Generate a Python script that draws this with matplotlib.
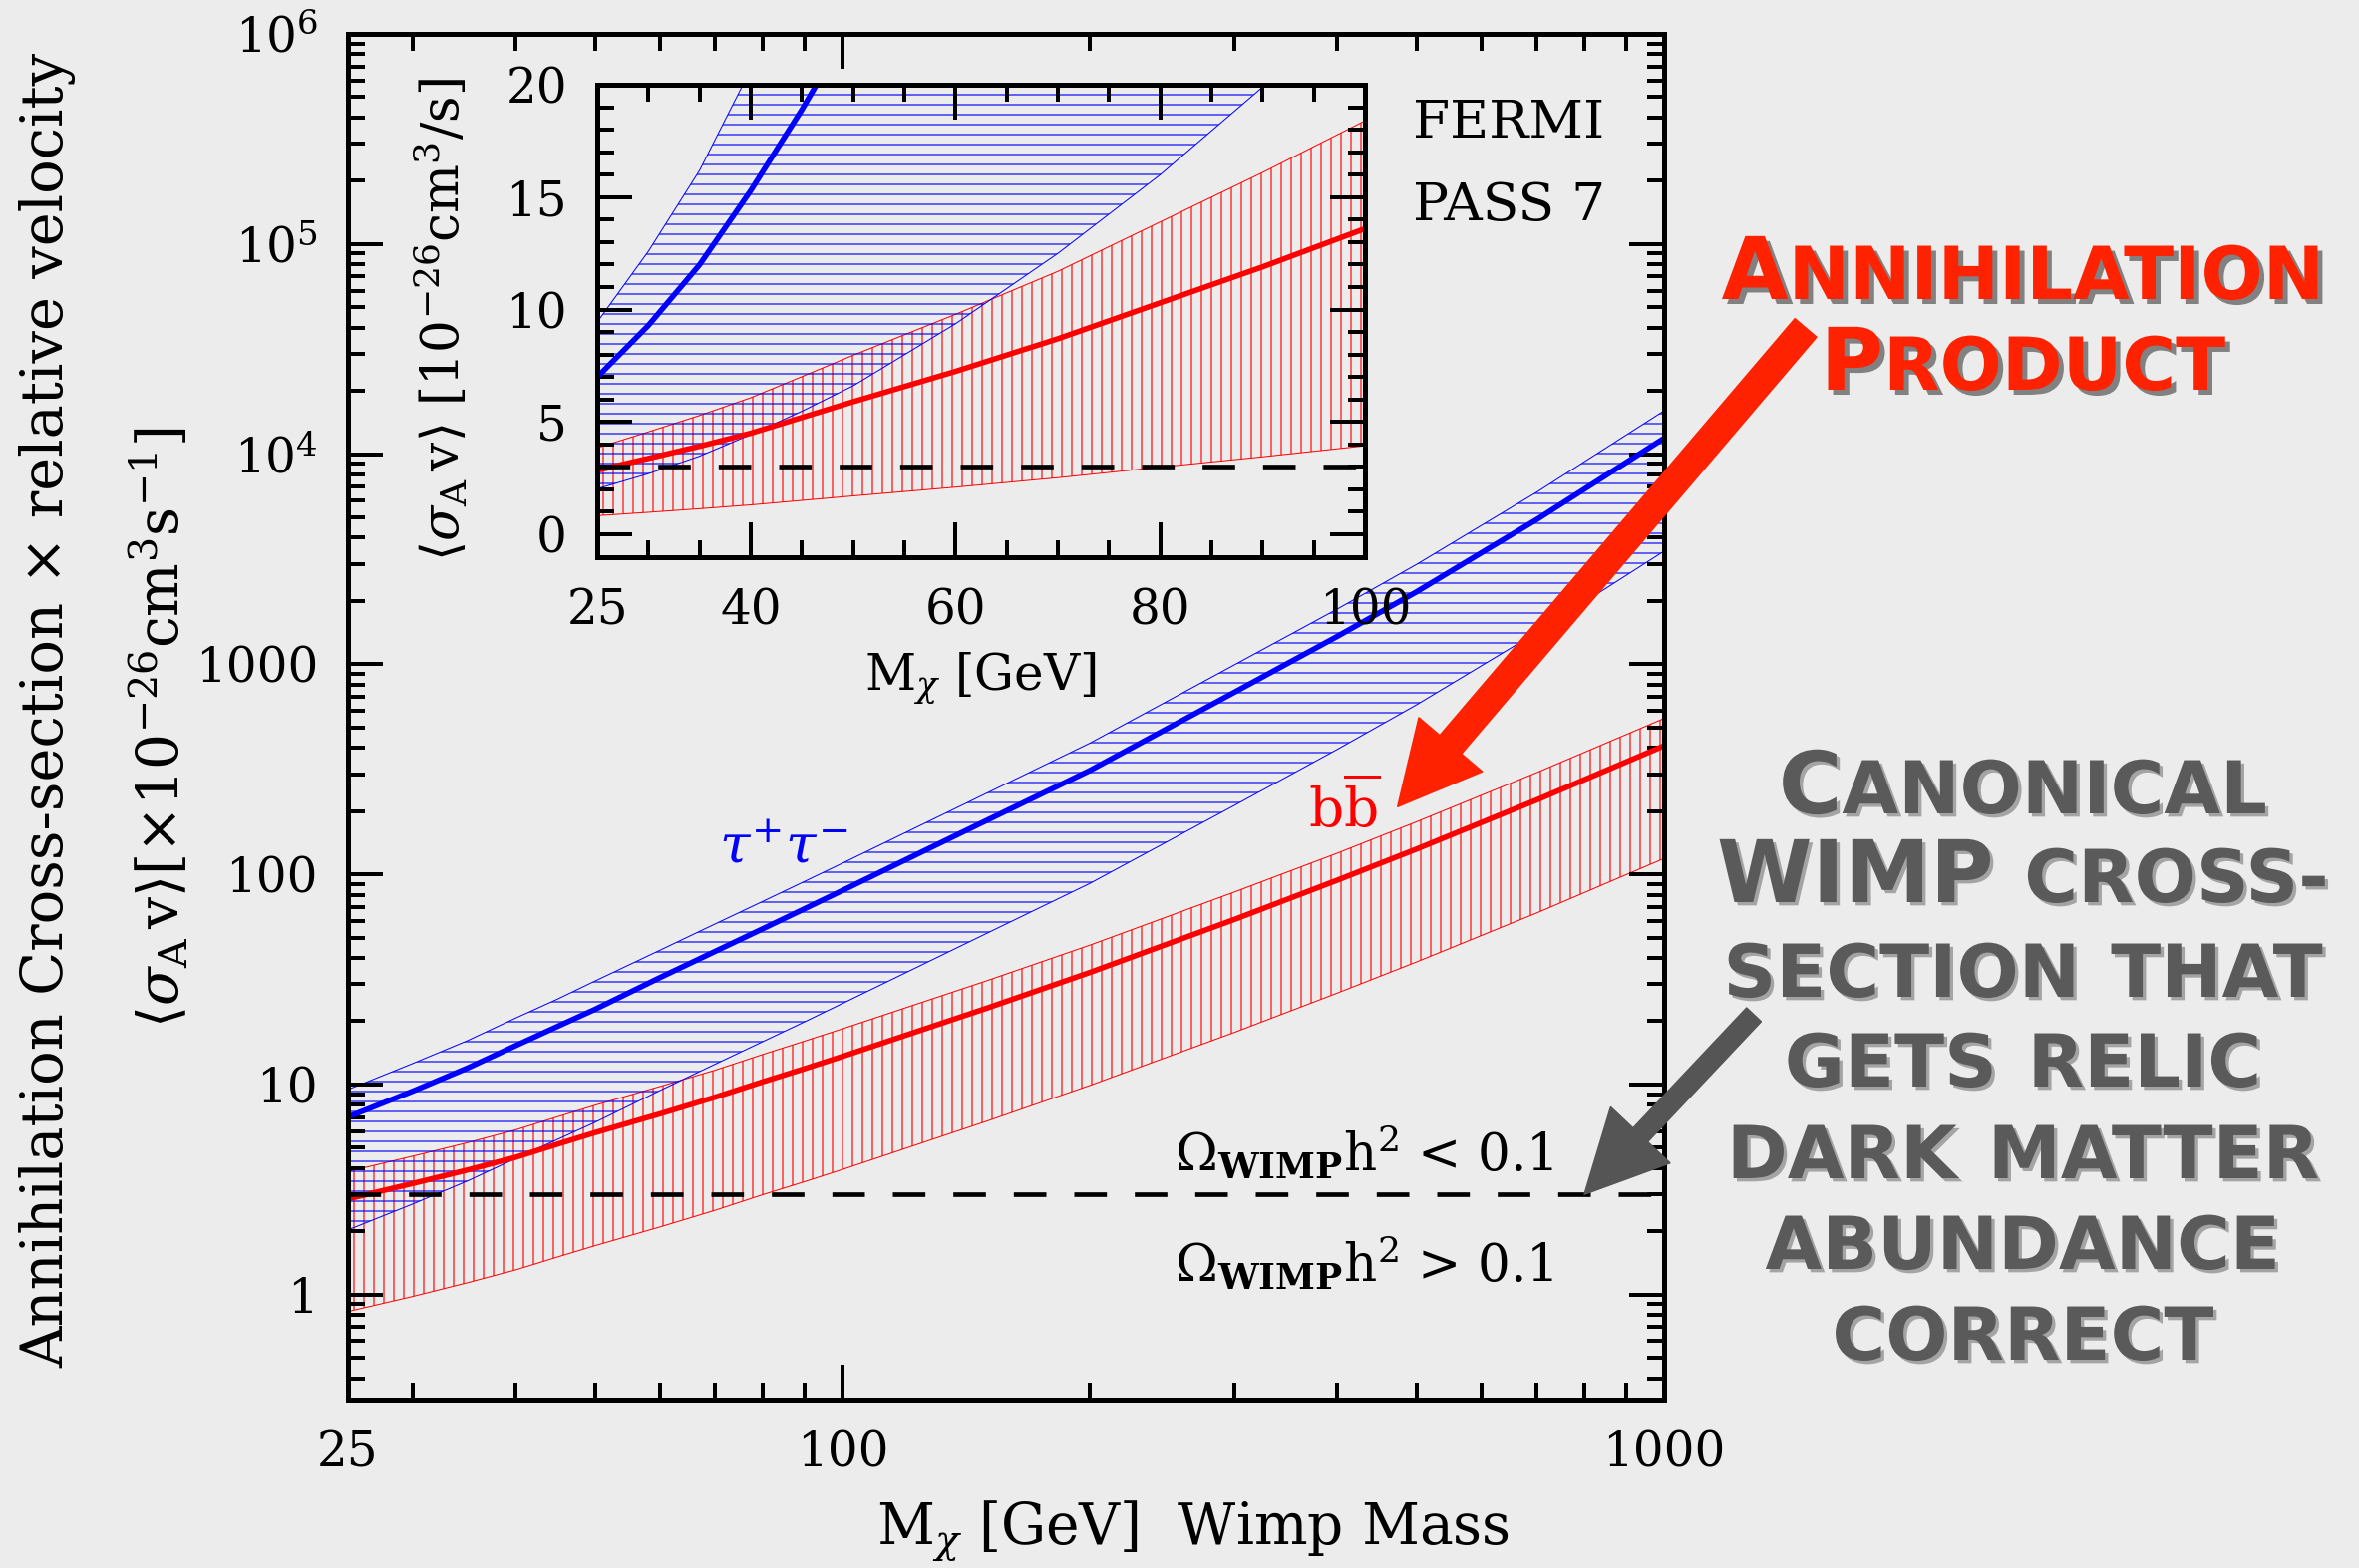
import matplotlib
matplotlib.use("Agg")
import matplotlib.pyplot as plt
import matplotlib.ticker as mticker
from matplotlib import patheffects as pe

# WIMP mass grid [GeV] and Fermi pass-7 limits [1e-26 cm^3/s]
mass = [25, 30, 35, 40, 45, 50, 60, 70, 80, 90, 100, 150, 200, 300, 400, 500, 700, 1000]
tau_mid = [7.0, 9.3, 12.0, 15.3, 18.9, 22.8, 32.3, 43.0, 55.1, 68.7, 83.8, 181, 312, 736, 1355, 2213, 4883, 11900]
tau_hi = [9.45, 12.6, 16.2, 20.7, 25.5, 31.1, 43.6, 58.1, 74.4, 92.7, 113, 244, 421, 994, 1829, 2988, 6592, 16070]
tau_lo = [2.03, 2.70, 3.48, 4.44, 5.48, 6.61, 9.37, 12.5, 16.0, 19.9, 24.3, 52.5, 90.5, 213, 393, 642, 1416, 3451]
bb_mid = [2.85, 3.38, 3.92, 4.5, 5.2, 5.9, 7.25, 8.7, 10.3, 11.9, 13.6, 23.1, 34.1, 61.0, 93.7, 132, 226, 409]
bb_hi = [3.85, 4.56, 5.29, 6.08, 7.02, 7.97, 9.79, 11.7, 13.9, 16.1, 18.4, 31.2, 46.0, 82.4, 126, 178, 305, 552]
bb_lo = [0.83, 0.98, 1.14, 1.31, 1.51, 1.71, 2.10, 2.52, 2.99, 3.45, 3.94, 6.70, 9.89, 17.7, 27.2, 38.3, 65.5, 119]
relic = 3.0

main_xticks = [25, 100, 1000]
main_xlabels = ["25", "100", "1000"]
main_yticks = [1, 10, 100, 1000, 1e4, 1e5, 1e6]
main_ylabels = ["1", "10", "100", "1000", r"$10^4$", r"$10^5$", r"$10^6$"]
inset_xticks = [25, 40, 60, 80, 100]
inset_yticks = [0, 5, 10, 15, 20]

# small-caps captions: (big part, small part) per word
annih_lines = [[("A", "NNIHILATION")], [("P", "RODUCT")]]
canon_lines = [
    [("C", "ANONICAL")],
    [("WIMP", ""), ("", "CROSS-")],
    [("", "SECTION"), ("", "THAT")],
    [("", "GETS"), ("", "RELIC")],
    [("", "DARK"), ("", "MATTER")],
    [("", "ABUNDANCE")],
    [("", "CORRECT")],
]

BG = "#ececec"
RED = "#ff2200"
GREY = "#5a5a5a"
W, H, DPI = 2366, 1573, 120

plt.rcParams["font.family"] = ["DejaVu Serif"]
plt.rcParams["mathtext.fontset"] = "dejavuserif"
plt.rcParams["hatch.linewidth"] = 0.7

fig = plt.figure(figsize=(W / DPI, H / DPI), dpi=DPI, facecolor=BG)


def draw_bands(ax):
    ax.fill_between(mass, bb_lo, bb_hi, facecolor="none", edgecolor="red",
                    hatch="||", linewidth=0.6)
    ax.fill_between(mass, tau_lo, tau_hi, facecolor="none", edgecolor="blue",
                    hatch="--", linewidth=0.6)
    ax.plot(mass, bb_mid, color="red", lw=3.3, solid_joinstyle="round")
    ax.plot(mass, tau_mid, color="blue", lw=3.3, solid_joinstyle="round")
    ax.axhline(relic, color="black", lw=2.8, dashes=(7, 6))


def style_ticks(ax, size):
    ax.tick_params(which="both", direction="in", top=True, right=True,
                   width=2.4, labelsize=size, pad=18)
    ax.tick_params(which="major", length=21)
    ax.tick_params(which="minor", length=10)
    for s in ax.spines.values():
        s.set_linewidth(3)


# ---- main panel
ax = fig.add_axes([0.1475, 0.1074, 0.5579, 0.8710], facecolor=BG)
draw_bands(ax)
ax.set_xscale("log")
ax.set_yscale("log")
ax.set_xlim(25, 1000)
ax.set_ylim(10 ** -0.5, 1e6)
ax.xaxis.set_major_locator(mticker.FixedLocator(main_xticks))
ax.xaxis.set_major_formatter(mticker.FixedFormatter(main_xlabels))
ax.xaxis.set_minor_locator(mticker.LogLocator(base=10, subs=range(2, 10), numticks=20))
ax.xaxis.set_minor_formatter(mticker.NullFormatter())
ax.yaxis.set_major_locator(mticker.FixedLocator(main_yticks))
ax.yaxis.set_major_formatter(mticker.FixedFormatter(main_ylabels))
ax.yaxis.set_minor_locator(mticker.LogLocator(base=10, subs=range(2, 10), numticks=40))
ax.yaxis.set_minor_formatter(mticker.NullFormatter())
style_ticks(ax, 29)

ax.text(84.6, 135, r"$\tau^{+}\tau^{-}$", color="blue", fontsize=33, ha="center", va="center")
ax.text(408, 205, r"$\mathrm{b}\overline{\mathrm{b}}$", color="red", fontsize=33, ha="center", va="center")
ax.text(431, 3.85, r"$\Omega_{\mathbf{WIMP}}\mathrm{h}^2$ < 0.1", fontsize=31, ha="center", va="baseline")
ax.text(431, 1.15, r"$\Omega_{\mathbf{WIMP}}\mathrm{h}^2$ > 0.1", fontsize=31, ha="center", va="baseline")
ax.text(0.882, 0.935, "FERMI", transform=ax.transAxes, fontsize=32, ha="center", va="center")
ax.text(0.882, 0.874, "PASS 7", transform=ax.transAxes, fontsize=32, ha="center", va="center")

fig.text(1197 / W, 1 - 1535 / H, r"M$_\chi$ [GeV]  Wimp Mass", fontsize=34, ha="center", va="center")
fig.text(48 / W, 1 - 712 / H, "Annihilation Cross-section \u00d7 relative velocity",
         fontsize=34.5, rotation=90, ha="center", va="center")
fig.text(160 / W, 1 - 730 / H,
         r"$\langle\sigma_{\rm A}\,{\rm v}\rangle[\times10^{-26}{\rm cm^3s^{-1}}]$",
         fontsize=34, rotation=90, ha="center", va="center")

# ---- inset
ax2 = fig.add_axes([0.2532, 0.6446, 0.3254, 0.3013], facecolor=BG)
draw_bands(ax2)
ax2.set_xlim(25, 100)
ax2.set_ylim(-1.02, 20)
ax2.xaxis.set_major_locator(mticker.FixedLocator(inset_xticks))
ax2.xaxis.set_minor_locator(mticker.MultipleLocator(5))
ax2.yaxis.set_major_locator(mticker.FixedLocator(inset_yticks))
ax2.yaxis.set_minor_locator(mticker.MultipleLocator(1))
style_ticks(ax2, 29)
fig.text(983 / W, 1 - 680 / H, r"M$_\chi$ [GeV]", fontsize=30, ha="center", va="center")
fig.text(443 / W, 1 - 321 / H,
         r"$\langle\sigma_{\rm A}\,{\rm v}\rangle$ [10$^{-26}$cm$^3$/s]",
         fontsize=31, rotation=90, ha="center", va="center")

# ---- arrows
ax.annotate("", xy=(474, 210), xycoords="data", xytext=(1811, H - 329),
            textcoords="figure pixels", annotation_clip=False,
            arrowprops=dict(arrowstyle="simple,head_length=4.9,head_width=5.0,tail_width=1.7",
                            mutation_scale=10, color=RED,
                            shrinkA=0, shrinkB=0, clip_on=False), zorder=10)
ax.annotate("", xy=(800, relic), xycoords="data", xytext=(1759, H - 1018),
            textcoords="figure pixels", annotation_clip=False,
            arrowprops=dict(arrowstyle="simple,head_length=4.9,head_width=4.9,tail_width=1.2",
                            mutation_scale=10, color="#555555",
                            shrinkA=0, shrinkB=0, clip_on=False), zorder=10)


# ---- small caps captions on the right
def smallcaps_line(words, cx, base, big, small, color, effects):
    r = fig.canvas.get_renderer()
    gap = 0.42 * small * DPI / 72
    pieces = []
    for i, (cap, rest) in enumerate(words):
        for txt, size in ((cap, big), (rest, small)):
            if not txt:
                continue
            t = fig.text(0, 1 - base / H, txt, fontsize=size, color=color,
                         fontweight="bold", family="DejaVu Sans",
                         va="baseline", ha="left", path_effects=effects)
            pieces.append([t, t.get_window_extent(renderer=r).width, i])
    total = sum(p[1] for p in pieces) + gap * (len(words) - 1)
    x = cx - total / 2
    last = 0
    for t, w, i in pieces:
        if i != last:
            x += gap
            last = i
        t.set_x(x / W)
        x += w


red_fx = [pe.withSimplePatchShadow(offset=(3, -3), shadow_rgbFace="black", alpha=0.45)]
grey_fx = [pe.withSimplePatchShadow(offset=(2, -2), shadow_rgbFace="black", alpha=0.3)]
for line, base in zip(annih_lines, [300, 391]):
    smallcaps_line(line, 2029, base, 52, 44, RED, red_fx)
for line, base in zip(canon_lines, [816, 905, 1000, 1090, 1182, 1273, 1364]):
    smallcaps_line(line, 2029, base, 52, 44, GREY, grey_fx)

fig.savefig("out.png", dpi=DPI, facecolor=BG)
